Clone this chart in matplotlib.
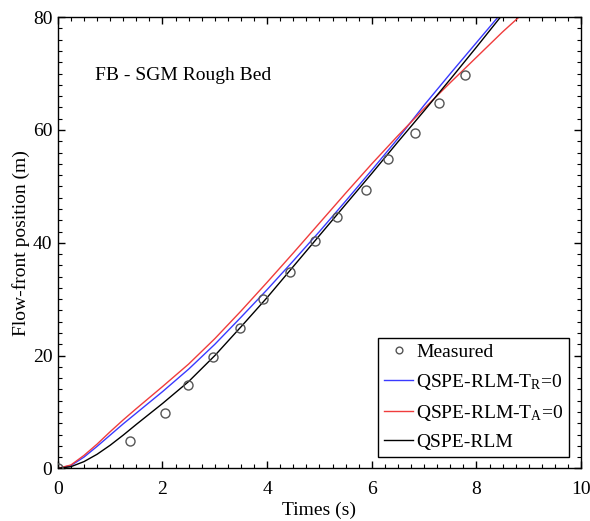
import matplotlib
matplotlib.use('Agg')
import matplotlib.pyplot as plt
from matplotlib.ticker import MultipleLocator

plt.rcParams['font.family'] = ['Liberation Serif', 'DejaVu Serif']
plt.rcParams['mathtext.fontset'] = 'custom'
plt.rcParams['mathtext.rm'] = 'Liberation Serif'
plt.rcParams['mathtext.it'] = 'Liberation Serif:italic'

# measured flow-front positions
t_meas = [0, 1.38, 2.05, 2.49, 2.96, 3.48, 3.93, 4.44, 4.91, 5.33, 5.88, 6.31, 6.82, 7.28, 7.78]
x_meas = [0, 4.9, 9.9, 14.7, 19.8, 24.9, 30.0, 34.9, 40.4, 44.6, 49.4, 54.8, 59.5, 64.7, 69.7]

# model curves
t_model = [0, 0.25, 0.5, 0.75, 1.0, 1.25, 1.5, 2.0, 2.5, 3.0, 3.5, 4.0, 4.5,
           5.0, 5.5, 6.0, 6.5, 7.0, 7.5, 8.0, 8.5, 9.0]
x_tr0 = [0, 0.5, 2.0, 3.9, 5.9, 7.9, 9.8, 13.6, 17.6, 22.0, 26.8, 31.7, 36.8,
         42.0, 47.4, 52.9, 58.5, 64.4, 70.0, 75.5, 81.0, 86.5]
x_ta0 = [0, 0.6, 2.3, 4.3, 6.5, 8.6, 10.6, 14.5, 18.5, 23.0, 27.9, 33.0, 38.2,
         43.5, 48.8, 54.0, 59.0, 63.8, 68.4, 72.9, 77.4, 81.6]
x_rlm = [0, 0.3, 1.2, 2.5, 4.1, 5.9, 7.8, 11.5, 15.4, 20.0, 25.1, 30.3, 35.8,
         41.3, 46.8, 52.3, 57.9, 63.4, 69.0, 74.7, 80.5, 86.2]

fig = plt.figure(figsize=(5.9, 5.21), dpi=100)
ax = fig.add_axes([0.098, 0.101, 0.887, 0.866])

ax.plot(t_meas, x_meas, 'o', mfc='none', mec='#555555', mew=1.0, ms=6.5,
        label='Measured', zorder=3)
ax.plot(t_model, x_tr0, color='#3a3aff', lw=1.0, label=r'QSPE-RLM-T$_{\mathrm{R}}$=0')
ax.plot(t_model, x_ta0, color='#f03c3c', lw=1.0, label=r'QSPE-RLM-T$_{\mathrm{A}}$=0')
ax.plot(t_model, x_rlm, color='black', lw=1.0, label='QSPE-RLM')

ax.set_xlim(0, 10)
ax.set_ylim(0, 80)
ax.xaxis.set_major_locator(MultipleLocator(2))
ax.xaxis.set_minor_locator(MultipleLocator(0.25))
ax.yaxis.set_major_locator(MultipleLocator(20))
ax.yaxis.set_minor_locator(MultipleLocator(2))
ax.tick_params(which='both', direction='in', top=True, right=True, labelsize=14)
ax.tick_params(which='major', length=5, width=1.0)
ax.tick_params(which='minor', length=3, width=0.8)
ax.tick_params(axis='x', pad=9)
ax.tick_params(axis='y', pad=4)
for s in ax.spines.values():
    s.set_linewidth(1.0)

ax.set_xlabel('Times (s)', fontsize=14, labelpad=3)
ax.set_ylabel('Flow-front position (m)', fontsize=14, labelpad=2)

ax.text(0.72, 69.7, 'FB - SGM Rough Bed', fontsize=14, va='center', ha='left')

leg = ax.legend(loc='lower right', fontsize=14, frameon=True, fancybox=False,
                edgecolor='black', framealpha=1, handlelength=1.5,
                handletextpad=0.15, borderpad=0.3, labelspacing=0.55,
                borderaxespad=0.6, markerscale=0.75)
leg.get_frame().set_linewidth(1.0)

fig.savefig('out.png', dpi=100)
